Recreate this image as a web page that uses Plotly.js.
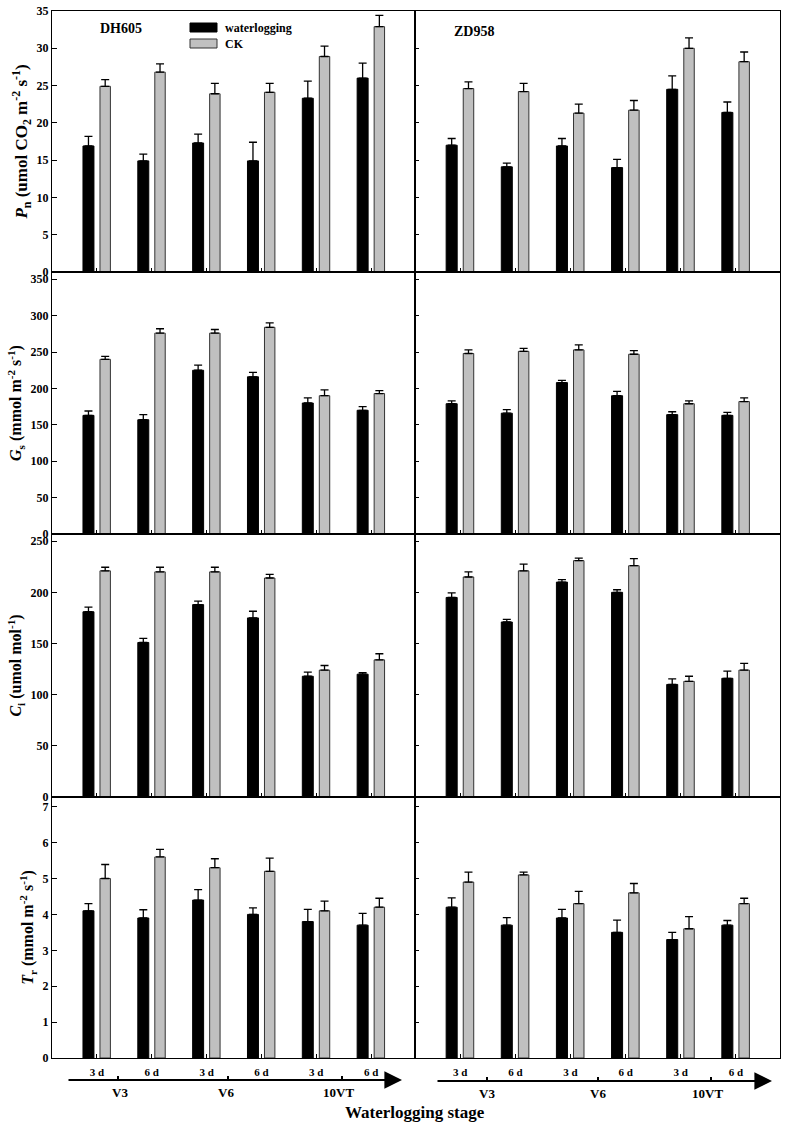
<!DOCTYPE html>
<html>
<head>
<meta charset="utf-8">
<script src="https://cdn.plot.ly/plotly-3.0.1.min.js"></script>
<style>body{margin:0;background:#fff}</style>
</head>
<body>
<div id="chart" style="width:788px;height:1128px"></div>
<script>
var stages = [0, 1, 2, 3, 4, 5];
var durations = ['3 d', '6 d', '3 d', '6 d', '3 d', '6 d'];
var stageNames = ['V3', 'V6', '10VT'];
var cultivars = ['DH605', 'ZD958'];

// Pn
var pnDhWl = [16.9, 14.9, 17.3, 14.9, 23.3, 26.0];
var pnDhWlErr = [1.3, 0.9, 1.2, 2.5, 2.3, 2.0];
var pnDhCk = [24.9, 26.8, 23.9, 24.1, 28.9, 32.9];
var pnDhCkErr = [0.9, 1.1, 1.4, 1.2, 1.4, 1.5];
var pnZdWl = [17.0, 14.1, 16.9, 14.0, 24.5, 21.4];
var pnZdWlErr = [0.9, 0.5, 1.0, 1.1, 1.8, 1.4];
var pnZdCk = [24.6, 24.2, 21.3, 21.7, 30.0, 28.2];
var pnZdCkErr = [0.9, 1.1, 1.2, 1.3, 1.4, 1.3];

// Gs
var gsDhWl = [163, 157, 225, 216, 180, 170];
var gsDhWlErr = [6, 7, 7, 6, 7, 5];
var gsDhCk = [240, 276, 276, 284, 190, 193];
var gsDhCkErr = [4, 6, 5, 6, 8, 4];
var gsZdWl = [179, 166, 208, 190, 164, 163];
var gsZdWlErr = [4, 5, 3, 6, 4, 4];
var gsZdCk = [248, 251, 253, 247, 179, 182];
var gsZdCkErr = [5, 4, 7, 5, 4, 5];

// Ci
var ciDhWl = [181, 151, 188, 175, 118, 120];
var ciDhWlErr = [4.5, 4, 3.5, 6.5, 4, 1.5];
var ciDhCk = [221, 220, 220, 214, 124, 134];
var ciDhCkErr = [3.5, 4.5, 4.5, 3.5, 4.5, 6];
var ciZdWl = [195, 171, 210, 200, 110, 116];
var ciZdWlErr = [4.5, 2.5, 2.5, 2.5, 5.5, 7];
var ciZdCk = [215, 221, 231, 226, 113, 124];
var ciZdCkErr = [5, 6.5, 2.5, 7, 5, 6.5];

// Tr
var trDhWl = [4.1, 3.9, 4.4, 4.0, 3.8, 3.7];
var trDhWlErr = [0.2, 0.23, 0.29, 0.18, 0.34, 0.33];
var trDhCk = [5.0, 5.6, 5.3, 5.2, 4.1, 4.2];
var trDhCkErr = [0.39, 0.21, 0.25, 0.37, 0.27, 0.25];
var trZdWl = [4.2, 3.7, 3.9, 3.5, 3.3, 3.7];
var trZdWlErr = [0.26, 0.21, 0.24, 0.34, 0.2, 0.13];
var trZdCk = [4.9, 5.1, 4.3, 4.6, 3.6, 4.3];
var trZdCkErr = [0.28, 0.08, 0.34, 0.26, 0.34, 0.15];

var rowTitles = [
    '<i>P</i><sub>n</sub> (umol CO<sub>2</sub> m<sup>-2</sup> s<sup>-1</sup>)',
    '<i>G</i><sub>s</sub> (mmol m<sup>-2</sup> s<sup>-1</sup>)',
    '<i>C</i><sub>i</sub> (umol mol<sup>-1</sup>)',
    '<i>T</i><sub>r</sub> (mmol m<sup>-2</sup> s<sup>-1</sup>)'
];
var rowTitleSizes = [17, 16, 16, 16];
var rowRanges = [[0, 35], [0, 360], [0, 257], [0, 7.27]];
var rowDticks = [5, 50, 50, 1];

var panels = [
    [pnDhWl, pnDhWlErr, pnDhCk, pnDhCkErr], [pnZdWl, pnZdWlErr, pnZdCk, pnZdCkErr],
    [gsDhWl, gsDhWlErr, gsDhCk, gsDhCkErr], [gsZdWl, gsZdWlErr, gsZdCk, gsZdCkErr],
    [ciDhWl, ciDhWlErr, ciDhCk, ciDhCkErr], [ciZdWl, ciZdWlErr, ciZdCk, ciZdCkErr],
    [trDhWl, trDhWlErr, trDhCk, trDhCkErr], [trZdWl, trZdWlErr, trZdCk, trZdCkErr]
];

// pixel -> paper helpers for the decorations
var L = 52, R = 780, T = 11, B = 1058;
function px(x) { return (x - L) / (R - L); }
function py(y) { return (B - y) / (B - T); }

var serif = 'Liberation Serif, Times New Roman, serif';
var colSplit = px(415);
var rowEdges = [py(11), py(272), py(534), py(797), py(1058)];
var zeros = [0, 0, 0, 0, 0, 0];

var data = [];
var layout = {
    width: 788, height: 1128,
    margin: {l: L, r: 788 - R, t: T, b: 1128 - B},
    paper_bgcolor: 'white', plot_bgcolor: 'white',
    barmode: 'overlay',
    showlegend: false,
    font: {family: serif, color: 'black', weight: 'bold'},
    shapes: [], annotations: []
};

for (var n = 0; n < 8; n++) {
    var r = Math.floor(n / 2), c = n % 2, id = n + 1;
    var xa = 'x' + (id === 1 ? '' : id), ya = 'y' + (id === 1 ? '' : id);
    var p = panels[n];
    data.push({
        type: 'bar', x: stages, y: p[0], xaxis: xa, yaxis: ya,
        width: 0.2, offset: -0.255,
        marker: {color: 'black', line: {color: 'black', width: 1}},
        error_y: {type: 'data', array: p[1], arrayminus: zeros, symmetric: false,
                  color: 'black', thickness: 1.3, width: 4}
    });
    data.push({
        type: 'bar', x: stages, y: p[2], xaxis: xa, yaxis: ya,
        width: 0.19, offset: 0.055,
        marker: {color: '#c0c0c0', line: {color: '#333', width: 1}},
        error_y: {type: 'data', array: p[3], arrayminus: zeros, symmetric: false,
                  color: 'black', thickness: 1.3, width: 4}
    });
    layout['xaxis' + (id === 1 ? '' : id)] = {
        domain: c === 0 ? [0, colSplit] : [colSplit, 1],
        anchor: ya, range: [-0.82, 5.8],
        tickvals: stages, ticktext: durations,
        showticklabels: r === 3, ticks: 'inside', ticklen: 4, tickcolor: 'black',
        ticklabelstandoff: 4,
        tickfont: {family: serif, size: 11, weight: 'bold'},
        showline: true, mirror: true, linecolor: 'black', linewidth: 1,
        showgrid: false, zeroline: false, fixedrange: true
    };
    var yax = {
        domain: [rowEdges[r + 1], rowEdges[r]],
        anchor: xa, range: rowRanges[r], dtick: rowDticks[r], tick0: 0,
        showticklabels: c === 0, ticks: 'inside', ticklen: c === 0 ? 5 : 4, tickcolor: 'black',
        tickfont: {family: serif, size: 12, weight: 'bold'},
        showline: true, mirror: true, linecolor: 'black', linewidth: 1,
        showgrid: false, zeroline: false, fixedrange: true
    };
    if (c === 0) {
        yax.title = {text: rowTitles[r], standoff: 4, font: {family: serif, size: rowTitleSizes[r], weight: 'bold'}};
    }
    layout['yaxis' + (id === 1 ? '' : id)] = yax;
}

function label(x, y, text, size, xanchor) {
    layout.annotations.push({xref: 'paper', yref: 'paper', x: px(x), y: py(y), text: text,
        xanchor: xanchor || 'center', yanchor: 'middle', showarrow: false,
        font: {family: serif, size: size, weight: 'bold'}});
}

// cultivar labels
label(121, 29, cultivars[0], 14);
label(474, 31, cultivars[1], 14);

// legend
layout.shapes.push({type: 'rect', xref: 'paper', yref: 'paper', x0: px(190), x1: px(217), y0: py(32), y1: py(23),
    fillcolor: 'black', line: {color: 'black', width: 1}});
layout.shapes.push({type: 'rect', xref: 'paper', yref: 'paper', x0: px(190), x1: px(217), y0: py(48), y1: py(39),
    fillcolor: '#c0c0c0', line: {color: '#333', width: 1}});
label(223, 28, 'waterlogging', 12, 'left');
label(223, 44, 'CK', 12, 'left');

// stage arrows under the bottom panels
var arrowSets = [
    {x0: 67, x1: 402, y: 1080, ticks: [118, 228, 342], labels: [120, 226, 338]},
    {x0: 436, x1: 772, y: 1081, ticks: [487, 598, 711], labels: [487, 598, 707]}
];
arrowSets.forEach(function (a) {
    layout.annotations.push({xref: 'paper', yref: 'paper', x: px(a.x1), y: py(a.y), ax: a.x0 - a.x1, ay: 0,
        axref: 'pixel', ayref: 'pixel', text: '', showarrow: true, arrowhead: 2, arrowsize: 1.6,
        arrowwidth: 2.2, arrowcolor: 'black'});
    a.ticks.forEach(function (t) {
        layout.shapes.push({type: 'line', xref: 'paper', yref: 'paper', x0: px(t), x1: px(t),
            y0: py(a.y), y1: py(a.y - 4), line: {color: 'black', width: 2}});
    });
    a.labels.forEach(function (t, i) {
        label(t, a.y + 12, stageNames[i], 13);
    });
});

label(415, 1112, 'Waterlogging stage', 17);

Plotly.newPlot('chart', data, layout, {displayModeBar: false, staticPlot: true});
</script>
</body>
</html>
